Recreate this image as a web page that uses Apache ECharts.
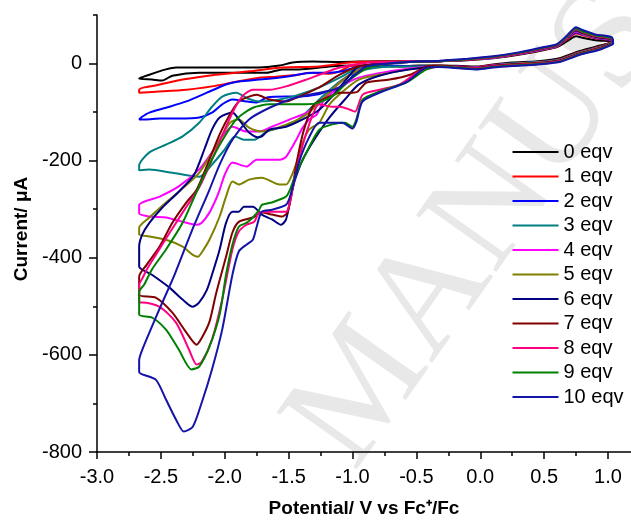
<!DOCTYPE html>
<html><head><meta charset="utf-8">
<script src="https://cdn.jsdelivr.net/npm/echarts@6/dist/echarts.min.js"></script>
<style>html,body{margin:0;padding:0;background:#fff}#c{width:631px;height:520px}</style>
</head><body><div id="c"></div>
<script>
const seriesNames = ['0 eqv','1 eqv','2 eqv','3 eqv','4 eqv','5 eqv','6 eqv','7 eqv','8 eqv','9 eqv','10 eqv'];
const seriesColors = ['#000000','#FF0000','#0000FF','#008080','#FF00FF','#808000','#000080','#800000','#FF0080','#008000','#1414a8'];
const xTicks = [-3.0,-2.5,-2.0,-1.5,-1.0,-0.5,0.0,0.5,1.0];
const xMinorTicks = [-2.75,-2.25,-1.75,-1.25,-0.75,-0.25,0.25,0.75];
const yTicks = [-800,-600,-400,-200,0];
const yMinorTicks = [-700,-500,-300,-100,100];

const eqv0 = [[1.04,44],[0.94,37],[0.78,26],[0.62,11],[0.45,5],[0.25,2],[0.1,-2],[-0.02,-6],[-0.15,-5],[-0.32,-4],
[-0.48,-4],[-0.63,-6],[-0.79,-6],[-1.0,-4],[-1.18,-6],[-1.42,-12],[-1.55,-12],[-1.67,-19],[-1.89,-19],[-2.2,-19],[-2.41,-25],[-2.49,-35],[-2.57,-33],[-2.67,-31],
[-2.59,-23],[-2.46,-12],[-2.38,-8],[-2.04,-8],[-1.73,-8],[-1.57,-4],[-1.47,2],[-1.31,4],[-1.1,3],[-0.79,5],[-0.48,4],
[-0.32,5],[-0.1,7],[0.1,11],[0.3,18],[0.5,28],[0.6,34],[0.68,46],[0.75,56],[0.8,53],[0.9,48],[1.03,46],[1.04,44]];

const eqv1 = [[1.04,45],[0.94,35],[0.78,24],[0.62,9],[0.45,3],[0.25,0],[0.1,-3],[-0.02,-7],[-0.15,-6],[-0.32,-5],
[-0.48,-6],[-0.79,-4],[-1.0,-4],[-1.1,-16],[-1.18,-21],[-1.34,-19],[-1.42,-23],[-1.6,-27],[-1.73,-29],[-1.94,-39],[-2.1,-47],[-2.3,-54],[-2.54,-58],[-2.67,-60],
[-2.67,-54],[-2.63,-49],[-2.54,-45],[-2.33,-33],[-2.07,-23],[-1.81,-16],[-1.55,-8],[-1.26,-6],[-1.02,2],[-0.79,4],[-0.48,4],
[-0.32,5],[-0.1,8],[0.1,12],[0.3,19],[0.5,29],[0.6,35],[0.68,50],[0.75,62],[0.8,58],[0.9,52],[1.03,48],[1.04,45]];

const eqv2 = [[1.04,44],[0.94,34],[0.78,23],[0.62,8],[0.45,3],[0.25,0],[0.1,-4],[-0.02,-8],[-0.15,-6],[-0.32,-5],
[-0.48,-6],[-0.71,-4],[-0.89,-6],[-0.97,-16],[-1.02,-33],[-1.08,-47],[-1.16,-54],[-1.28,-64],[-1.42,-68],[-1.52,-68],[-1.67,-70],[-1.75,-80],[-1.83,-78],[-1.94,-74],[-2.02,-84],[-2.1,-101],[-2.2,-111],[-2.36,-113],[-2.51,-113],[-2.62,-115],[-2.67,-115],
[-2.65,-110],[-2.59,-101],[-2.46,-91],[-2.3,-78],[-2.14,-60],[-1.99,-43],[-1.89,-37],[-1.73,-33],[-1.52,-27],[-1.31,-19],[-1.18,-19],[-1.08,-16],[-0.95,-6],[-0.71,2],[-0.48,4],
[-0.32,5],[-0.1,8],[0.1,12],[0.3,20],[0.5,30],[0.6,36],[0.68,52],[0.75,64],[0.8,60],[0.9,53],[1.03,48],[1.04,44]];

const eqv3 = [[1.04,44],[0.94,34],[0.78,23],[0.62,8],[0.45,3],[0.25,0],[0.1,-4],[-0.02,-8],[-0.15,-7],[-0.32,-6],
[-0.48,-6],[-0.71,-6],[-0.95,-16],[-1.1,-37],[-1.26,-74],[-1.42,-115],[-1.57,-132],[-1.67,-140],[-1.77,-157],[-1.85,-157],[-1.92,-150],[-2.0,-177],[-2.1,-208],[-2.2,-233],[-2.41,-225],[-2.59,-218],[-2.67,-220],
[-2.67,-210],[-2.59,-183],[-2.46,-167],[-2.33,-150],[-2.2,-122],[-2.1,-89],[-2.02,-68],[-1.91,-60],[-1.82,-72],[-1.73,-78],[-1.57,-74],[-1.42,-64],[-1.26,-49],[-1.1,-29],[-0.95,-8],[-0.71,2],[-0.48,4],
[-0.32,5],[-0.1,8],[0.1,12],[0.3,20],[0.5,30],[0.6,36],[0.68,53],[0.75,66],[0.8,61],[0.9,54],[1.03,49],[1.04,44]];

const eqv4 = [[1.04,43],[0.94,33],[0.78,22],[0.62,7],[0.45,2],[0.25,-1],[0.1,-4],[-0.02,-8],[-0.15,-7],[-0.32,-6],
[-0.48,-8],[-0.71,-16],[-0.95,-29],[-1.1,-49],[-1.22,-74],[-1.28,-105],[-1.34,-115],[-1.39,-132],[-1.44,-157],[-1.52,-192],[-1.57,-198],[-1.75,-198],[-1.83,-212],[-1.94,-204],[-2.0,-229],[-2.04,-260],[-2.07,-280],[-2.12,-307],[-2.18,-328],[-2.22,-332],[-2.33,-326],[-2.46,-317],[-2.59,-315],[-2.67,-309],
[-2.67,-291],[-2.51,-274],[-2.36,-253],[-2.2,-218],[-2.1,-183],[-2.02,-150],[-1.94,-130],[-1.83,-140],[-1.73,-140],[-1.63,-130],[-1.49,-115],[-1.36,-101],[-1.26,-80],[-1.14,-49],[-1.02,-23],[-0.87,-6],[-0.63,2],
[-0.32,5],[-0.1,8],[0.1,12],[0.3,20],[0.5,30],[0.6,36],[0.68,53],[0.75,66],[0.8,61],[0.9,54],[1.03,49],[1.04,43]];

const eqv5 = [[1.04,43],[0.94,33],[0.78,22],[0.62,7],[0.45,2],[0.25,-1],[0.1,-5],[-0.02,-9],[-0.15,-7],[-0.32,-6],
[-0.55,-12],[-0.79,-23],[-0.95,-33],[-1.06,-54],[-1.18,-84],[-1.26,-122],[-1.34,-136],[-1.39,-163],[-1.43,-198],[-1.48,-233],[-1.52,-249],[-1.57,-249],[-1.71,-235],[-1.81,-239],[-1.89,-249],[-1.94,-243],[-1.99,-274],[-2.04,-315],[-2.12,-363],[-2.18,-389],[-2.21,-398],[-2.25,-394],[-2.33,-377],[-2.46,-363],[-2.59,-356],[-2.67,-352],
[-2.67,-338],[-2.59,-317],[-2.46,-286],[-2.36,-264],[-2.2,-225],[-2.07,-171],[-1.96,-122],[-1.89,-115],[-1.81,-132],[-1.71,-140],[-1.52,-126],[-1.36,-105],[-1.26,-80],[-1.14,-49],[-1.02,-23],[-0.87,-6],[-0.63,2],
[-0.32,5],[-0.1,8],[0.1,13],[0.3,21],[0.5,31],[0.6,37],[0.68,54],[0.75,68],[0.8,62],[0.9,55],[1.03,50],[1.04,43]];

const eqv6 = [[1.04,42],[0.94,32],[0.78,21],[0.62,6],[0.45,1],[0.25,-2],[0.1,-5],[-0.02,-9],[-0.15,-8],[-0.32,-6],
[-0.55,-12],[-0.79,-25],[-0.95,-43],[-1.06,-74],[-1.18,-111],[-1.3,-157],[-1.39,-198],[-1.45,-239],[-1.48,-270],[-1.52,-321],[-1.56,-332],[-1.63,-321],[-1.71,-311],[-1.78,-295],[-1.85,-295],[-1.89,-305],[-1.94,-305],[-1.99,-328],[-2.04,-383],[-2.1,-435],[-2.14,-466],[-2.2,-492],[-2.25,-501],[-2.33,-486],[-2.43,-462],[-2.57,-435],[-2.67,-418],
[-2.67,-377],[-2.645,-352],[-2.59,-328],[-2.49,-297],[-2.36,-264],[-2.24,-229],[-2.16,-177],[-2.1,-136],[-2.04,-111],[-1.94,-101],[-1.89,-115],[-1.81,-142],[-1.74,-152],[-1.71,-150],[-1.65,-136],[-1.52,-130],[-1.39,-115],[-1.26,-95],[-1.16,-68],[-1.05,-33],[-0.95,-6],[-0.63,2],
[-0.32,5],[-0.1,8],[0.1,13],[0.3,21],[0.5,31],[0.6,37],[0.68,54],[0.75,68],[0.8,63],[0.9,55],[1.03,50],[1.04,42]];

const eqv7 = [[1.04,42],[0.94,32],[0.78,21],[0.62,6],[0.45,1],[0.25,-2],[0.1,-5],[-0.02,-9],[-0.15,-7],[-0.32,-4],
[-0.42,-6],[-0.55,-23],[-0.71,-33],[-0.89,-39],[-0.96,-58],[-1.0,-60],[-1.1,-60],[-1.18,-68],[-1.3,-84],[-1.38,-136],[-1.44,-208],[-1.48,-274],[-1.51,-307],[-1.55,-315],[-1.63,-311],[-1.71,-307],[-1.78,-317],[-1.89,-326],[-1.94,-348],[-1.99,-398],[-2.07,-476],[-2.12,-532],[-2.18,-565],[-2.22,-579],[-2.3,-554],[-2.41,-513],[-2.54,-482],[-2.67,-476],
[-2.67,-439],[-2.61,-414],[-2.51,-377],[-2.41,-328],[-2.3,-286],[-2.22,-260],[-2.12,-198],[-2.04,-146],[-1.96,-105],[-1.89,-78],[-1.81,-68],[-1.75,-64],[-1.65,-74],[-1.52,-78],[-1.42,-68],[-1.26,-49],[-1.1,-23],[-0.95,-6],[-0.63,2],
[-0.32,5],[-0.1,8],[0.1,13],[0.3,21],[0.5,32],[0.6,38],[0.68,55],[0.75,70],[0.8,64],[0.9,56],[1.03,51],[1.04,42]];

const eqv8 = [[1.04,41],[0.94,31],[0.78,20],[0.62,5],[0.45,0],[0.25,-3],[0.1,-6],[-0.02,-10],[-0.15,-8],[-0.32,-6],
[-0.37,-8],[-0.48,-16],[-0.63,-43],[-0.79,-54],[-0.92,-64],[-0.98,-99],[-1.02,-95],[-1.1,-89],[-1.16,-89],[-1.26,-84],[-1.34,-126],[-1.42,-198],[-1.47,-260],[-1.49,-286],[-1.52,-305],[-1.63,-305],[-1.73,-307],[-1.77,-326],[-1.83,-332],[-1.89,-346],[-1.94,-383],[-2.02,-486],[-2.1,-569],[-2.18,-614],[-2.22,-620],[-2.28,-589],[-2.38,-534],[-2.51,-501],[-2.645,-492],[-2.67,-492],
[-2.67,-455],[-2.65,-445],[-2.61,-424],[-2.54,-394],[-2.43,-348],[-2.3,-295],[-2.2,-255],[-2.1,-198],[-2.0,-136],[-1.92,-91],[-1.85,-64],[-1.78,-54],[-1.65,-54],[-1.52,-47],[-1.36,-33],[-1.26,-23],[-1.1,-8],[-0.87,2],[-0.63,4],
[-0.32,5],[-0.1,8],[0.1,13],[0.3,21],[0.5,32],[0.6,38],[0.68,55],[0.75,70],[0.8,65],[0.9,57],[1.03,51],[1.04,41]];

const eqv9 = [[1.04,41],[0.94,30],[0.78,19],[0.62,4],[0.45,-1],[0.25,-4],[0.1,-7],[-0.02,-11],[-0.15,-9],[-0.32,-6],
[-0.42,-12],[-0.58,-39],[-0.79,-58],[-0.92,-74],[-0.97,-115],[-1.0,-130],[-1.06,-122],[-1.14,-124],[-1.26,-136],[-1.36,-183],[-1.44,-225],[-1.49,-260],[-1.52,-274],[-1.57,-280],[-1.63,-286],[-1.71,-291],[-1.73,-301],[-1.78,-317],[-1.83,-328],[-1.89,-336],[-1.94,-373],[-1.99,-435],[-2.04,-517],[-2.12,-583],[-2.2,-624],[-2.26,-630],[-2.36,-589],[-2.46,-548],[-2.57,-523],[-2.67,-517],
[-2.67,-470],[-2.63,-455],[-2.57,-424],[-2.46,-383],[-2.33,-328],[-2.22,-264],[-2.12,-208],[-2.03,-163],[-1.91,-115],[-1.78,-91],[-1.65,-84],[-1.36,-84],[-1.26,-80],[-1.14,-64],[-1.02,-33],[-0.87,-8],[-0.63,2],
[-0.32,5],[-0.1,9],[0.1,14],[0.3,22],[0.5,33],[0.6,39],[0.68,56],[0.75,72],[0.8,66],[0.9,58],[1.03,52],[1.04,41]];

const eqv10 = [[1.04,40],[0.94,29],[0.78,18],[0.62,3],[0.45,-2],[0.25,-5],[0.1,-8],[-0.02,-12],[-0.15,-10],[-0.32,-7],
[-0.42,-8],[-0.58,-39],[-0.77,-58],[-0.92,-78],[-0.97,-120],[-1.0,-134],[-1.08,-122],[-1.26,-122],[-1.34,-152],[-1.42,-204],[-1.48,-266],[-1.52,-291],[-1.63,-301],[-1.71,-305],[-1.75,-336],[-1.78,-363],[-1.83,-373],[-1.89,-387],[-1.94,-435],[-2.02,-548],[-2.1,-630],[-2.18,-698],[-2.25,-748],[-2.32,-758],[-2.38,-734],[-2.46,-692],[-2.54,-651],[-2.67,-635],
[-2.67,-611],[-2.645,-589],[-2.51,-505],[-2.39,-433],[-2.26,-346],[-2.12,-260],[-2.04,-208],[-1.94,-157],[-1.81,-115],[-1.65,-91],[-1.49,-74],[-1.34,-64],[-1.18,-56],[-1.1,-49],[-0.98,-23],[-0.89,-6],[-0.63,2],
[-0.32,6],[-0.1,10],[0.1,15],[0.3,23],[0.5,34],[0.6,40],[0.68,58],[0.75,75],[0.8,69],[0.9,60],[1.03,54],[1.04,40]];

const curves = [eqv0,eqv1,eqv2,eqv3,eqv4,eqv5,eqv6,eqv7,eqv8,eqv9,eqv10];

const chart = echarts.init(document.getElementById('c'), null, {renderer:'canvas', width:631, height:520});
const FONT = 'Arial, "Liberation Sans", sans-serif';
const axisLineStyle = {color:'#000', width:1.5};
const option = {
  animation: false,
  backgroundColor: '#fff',
  grid: {left: 97, right: 0, top: 15, bottom: 68, containLabel: false},
  xAxis: [
    {type:'value', min:-3, max:1.18, position:'bottom',
     axisLine:{show:true, onZero:false, lineStyle:axisLineStyle},
     axisTick:{show:true, length:7, customValues:xTicks, lineStyle:axisLineStyle},
     axisLabel:{show:true, customValues:xTicks, formatter:v=>Number(v).toFixed(1), fontSize:20, fontFamily:FONT, color:'#000', margin:15},
     splitLine:{show:false}},
    {type:'value', min:-3, max:1.18, position:'bottom',
     axisLine:{show:false, onZero:false}, axisTick:{show:true, length:4, customValues:xMinorTicks, lineStyle:axisLineStyle},
     axisLabel:{show:false}, splitLine:{show:false}}
  ],
  yAxis: [
    {type:'value', min:-800, max:100, position:'left',
     axisLine:{show:true, onZero:false, lineStyle:axisLineStyle},
     axisTick:{show:true, length:8, customValues:yTicks, lineStyle:axisLineStyle},
     axisLabel:{show:true, customValues:yTicks, fontSize:20, fontFamily:FONT, color:'#000', margin:15},
     splitLine:{show:false}},
    {type:'value', min:-800, max:100, position:'left',
     axisLine:{show:false, onZero:false}, axisTick:{show:true, length:4, customValues:yMinorTicks, lineStyle:axisLineStyle},
     axisLabel:{show:false}, splitLine:{show:false}}
  ],
  legend: {
    orient:'vertical', left:507.5, top:137, itemWidth:46, itemHeight:2, itemGap:4.5, icon:'rect',
    selectedMode:false, data: seriesNames,
    textStyle:{fontSize:20, fontFamily:FONT, color:'#000', lineHeight:20}
  },
  graphic: [
    {type:'text', x:322, y:450, rotation:0.955, z:0, silent:true,
     style:{text:'MANUS', font:'150px "Liberation Serif", serif', fill:'#e8e8e8', align:'left', verticalAlign:'middle'}},
    {type:'text', x:22, y:229, rotation:Math.PI/2, z:10,
     style:{text:'Current/ μA', font:'bold 19px ' + FONT, fill:'#000', align:'center', verticalAlign:'middle'}},
    {type:'text', x:364, y:509, z:10,
     style:{text:'Potential/ V vs Fc⁺/Fc', font:'bold 19px ' + FONT, fill:'#000', align:'center', verticalAlign:'middle'}}
  ],
  series: curves.map((d,i)=>({
    name: seriesNames[i], type:'line', data:d, xAxisIndex:0, yAxisIndex:0,
    symbol:'none', showSymbol:false, smooth:0.25, z: 3 + i,
    lineStyle:{width:2, color:seriesColors[i]}, itemStyle:{color:seriesColors[i]},
    emphasis:{disabled:true}
  }))
};
chart.setOption(option);
</script></body></html>
